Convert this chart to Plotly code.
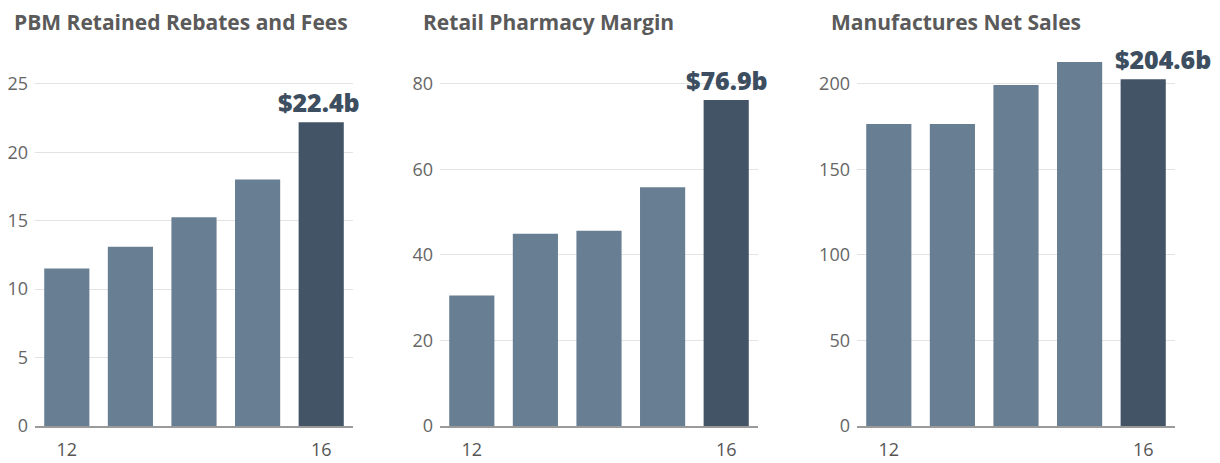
import plotly.graph_objects as go

# ---- data ----
years = [12, 13, 14, 15, 16]
tick_years = [12, 16]

titles = ["PBM Retained Rebates and Fees", "Retail Pharmacy Margin", "Manufactures Net Sales"]
pbm_values = [11.5, 13.1, 15.25, 18.0, 22.2]
retail_values = [30.5, 44.9, 45.6, 55.8, 76.2]
manuf_values = [176.4, 176.4, 199.2, 212.6, 202.5]
last_labels = ["$22.4b", "$76.9b", "$204.6b"]

y_ticks_pbm = [0, 5, 10, 15, 20, 25]
y_ticks_retail = [0, 20, 40, 60, 80]
y_ticks_manuf = [0, 50, 100, 150, 200]

series = [pbm_values, retail_values, manuf_values]
y_ticks = [y_ticks_pbm, y_ticks_retail, y_ticks_manuf]
y_tops = [28.2, 90.2, 225.5]

# ---- style ----
W, H = 1220, 463
LIGHT = "#687f93"
DARK = "#435466"
FONT = "Open Sans"
x_domains_px = [(35, 353), (440, 758), (857, 1175)]
title_left_px = [12, 421, 829]
label_xshift = [-2, 1, 20]
plot_bottom_px = 426
plot_top_px = 40

fig = go.Figure()
for i, vals in enumerate(series):
    n = i + 1
    xa = "x" if n == 1 else f"x{n}"
    ya = "y" if n == 1 else f"y{n}"
    colors = [LIGHT] * (len(vals) - 1) + [DARK]
    fig.add_trace(go.Bar(x=years, y=vals, xaxis=xa, yaxis=ya,
                         marker=dict(color=colors, line=dict(width=0)),
                         showlegend=False, hoverinfo="x+y"))
    d0, d1 = x_domains_px[i]
    fig.layout[f"xaxis{'' if n == 1 else n}"] = dict(
        domain=[d0 / W, d1 / W], anchor=ya, range=[11.5, 16.5], automargin=False,
        tickvals=tick_years, ticktext=[str(t) for t in tick_years],
        showgrid=False, zeroline=False, showline=True, linecolor="#9a9a9a", linewidth=1.5,
        ticks="", ticklabelstandoff=7,
        tickfont=dict(family=FONT, size=18, color="#555555"), fixedrange=True)
    fig.layout[f"yaxis{'' if n == 1 else n}"] = dict(
        domain=[(H - plot_bottom_px) / H, (H - plot_top_px) / H], anchor=xa,
        range=[0, y_tops[i]], tickvals=y_ticks[i], automargin=False,
        showgrid=True, gridcolor="#e3e3e3", gridwidth=1, zeroline=False, showline=False,
        ticks="", ticklabelstandoff=6,
        tickfont=dict(family=FONT, size=18, color="#666666"), fixedrange=True)
    fig.add_annotation(text=titles[i], xref="paper", yref="paper",
                       x=title_left_px[i] / W, y=(H - 22) / H, xanchor="left", yanchor="middle",
                       showarrow=False,
                       font=dict(family=FONT, size=21, color="#5a5a5a", weight=700))
    fig.add_annotation(text=last_labels[i], xref=xa, yref=ya,
                       x=years[-1], y=vals[-1], xanchor="center", yanchor="bottom",
                       xshift=label_xshift[i], yshift=1, showarrow=False,
                       font=dict(family=FONT, size=25, color="#3d4e60", weight=800))

fig.update_layout(width=W, height=H, margin=dict(l=0, r=0, t=0, b=0, autoexpand=False),
                  paper_bgcolor="white", plot_bgcolor="white",
                  bargap=0.29, font=dict(family=FONT))

fig.write_html("out.html", config={"displayModeBar": False},
               post_script="document.body.style.margin='0';")
